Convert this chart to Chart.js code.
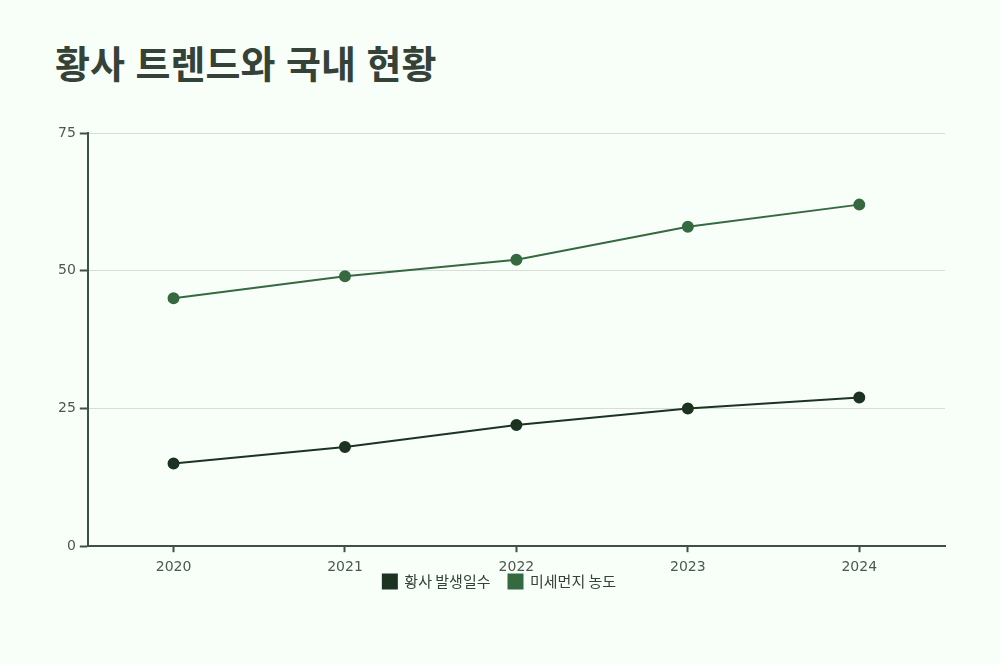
<!DOCTYPE html>
<html lang="ko">
<head>
  <meta charset="UTF-8" />
  <title>황사 트렌드와 국내 현황</title>
  <script src="https://cdn.jsdelivr.net/npm/chart.js"></script>
  <style>
    html, body { margin: 0; padding: 0; background: #f8fff8; }
    #wrap { position: relative; width: 1000px; height: 664px; }
    h1 {
      position: absolute; left: 55px; top: 34px; margin: 0;
      font-family: "Noto Sans CJK KR", "Noto Sans", sans-serif;
      font-weight: 700; font-size: 38px;
      color: #344238;
    }
    #chart { position: absolute; left: 0; top: 0; }
  </style>
</head>
<body>
  <div id="wrap">
    <h1>황사 트렌드와 국내 현황</h1>
    <canvas id="chart" width="1000" height="664"></canvas>
  </div>

  <script>
    // data
    const years = ['2020', '2021', '2022', '2023', '2024'];
    const dustDays = [15, 18, 22, 25, 27];      // 황사 발생일수
    const fineDust = [45, 49, 52, 58, 62];      // 미세먼지 농도
    const yTicks = [0, 25, 50, 75];

    const axisColor = '#3f5046';
    const textColor = '#4a5a4f';
    const tickFont = { family: '"DejaVu Sans", sans-serif', size: 14 };

    // the legend sits tight under the year labels in the original
    const legendNudge = {
      id: 'legendNudge',
      afterLayout(chart) {
        const lg = chart.legend;
        if (lg) { lg.top -= 27; lg.bottom -= 27; }
      }
    };

    new Chart(document.getElementById('chart'), {
      type: 'line',
      data: {
        labels: years,
        datasets: [
          {
            label: '황사 발생일수',
            data: dustDays,
            borderColor: '#1c3322',
            backgroundColor: '#1c3322',
            borderWidth: 2,
            pointRadius: 5,
            pointHoverRadius: 5,
            tension: 0
          },
          {
            label: '미세먼지 농도',
            data: fineDust,
            borderColor: '#356a40',
            backgroundColor: '#356a40',
            borderWidth: 2,
            pointRadius: 5,
            pointHoverRadius: 5,
            tension: 0
          }
        ]
      },
      plugins: [legendNudge],
      options: {
        responsive: false,
        animation: false,
        layout: { padding: { top: 133, left: 54, right: 55, bottom: 38 } },
        plugins: {
          legend: {
            position: 'bottom',
            labels: {
              boxWidth: 14, boxHeight: 14, padding: 18,
              color: '#344238',
              font: { family: '"Noto Sans CJK KR", sans-serif', size: 15 }
            }
          },
          tooltip: { enabled: false }
        },
        scales: {
          x: {
            offset: true,
            border: { color: axisColor, width: 2 },
            grid: { drawOnChartArea: false, tickColor: axisColor, tickLength: 6, tickWidth: 2 },
            ticks: { color: textColor, padding: 7, font: tickFont }
          },
          y: {
            min: 0, max: 75,
            afterBuildTicks: axis => { axis.ticks = yTicks.map(v => ({ value: v })); },
            border: { color: axisColor, width: 2 },
            grid: { color: '#d8ddd8', tickColor: axisColor, tickLength: 8, tickWidth: 2 },
            ticks: { color: textColor, padding: 4, font: tickFont }
          }
        }
      }
    });
  </script>
</body>
</html>
